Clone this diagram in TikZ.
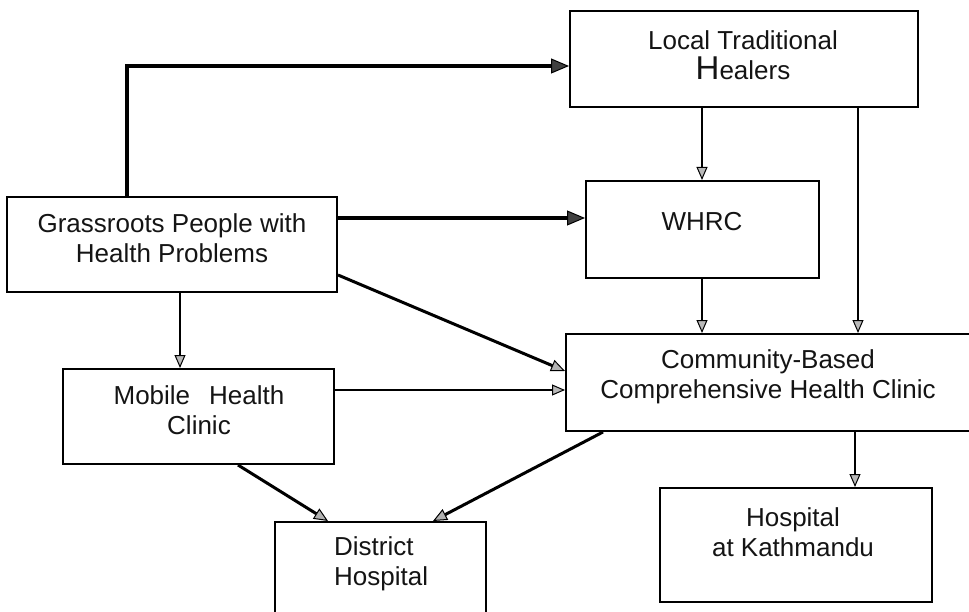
\documentclass[tikz,border=0pt]{standalone}
\usepackage{fontspec}
\setmainfont{Liberation Sans}
\usetikzlibrary{arrows.meta}
\begin{document}
\begin{tikzpicture}[x=1pt,y=-1pt,
  box/.style={draw=black, line width=2pt, rectangle, inner sep=0pt},
  txt/.style={align=center, inner sep=0pt, font=\fontsize{26}{30}\selectfont, text=black!92},
  thinarr/.style={line width=1.6pt, -{Triangle[length=13pt,width=11pt,line width=1pt,fill=gray!55]}},
  thickarr/.style={line width=4.5pt, -{Triangle[length=18pt,width=15pt,line width=1pt,fill=black!75]}},
  midarr/.style={line width=3pt, -{Triangle[length=14pt,width=12pt,line width=1pt,fill=gray!60]}},
]
\useasboundingbox (0,0) rectangle (969,612);
\clip (0,0) rectangle (969,612);

% boxes
\node[box, minimum width=348pt, minimum height=96pt] (lth) at (744,59) {};
\node[box, minimum width=330pt, minimum height=95pt] (g) at (172,244.5) {};
\node[box, minimum width=233pt, minimum height=97pt] (w) at (702.5,229.5) {};
\node[box, minimum width=434pt, minimum height=97pt] (comm) at (783,382.5) {};
\node[box, minimum width=271pt, minimum height=95pt] (mob) at (198.5,416.5) {};
\node[box, minimum width=211pt, minimum height=138pt] (dist) at (380.5,591) {};
\node[box, minimum width=272pt, minimum height=114pt] (kat) at (796,545) {};

% texts
\node[txt] (lthtext) at (743,55.5) {Local Traditional\\{\fontsize{33}{30}\selectfont H}ealers};
\node[txt] (gtext) at (172,238.5) {Grassroots People with\\Health Problems};
\node[txt] (wtext) at (702,222) {WHRC};
\node[txt] (commtext) at (768,377) {Community-Based\\Comprehensive Health Clinic};
\node[txt] (mobtext) at (199,410.5) {Mobile\hspace{19pt}Health\\Clinic};
\node[txt, align=left, anchor=west] (disttext) at (334,564) {District\\Hospital};
\node[txt] (kattext) at (793,532) {Hospital\\at Kathmandu};

% connectors
\coordinate (ctop) at (127,66);
\draw[thickarr] (g.north -| ctop) -- (ctop) -- (ctop -| lth.west);
\coordinate (cgw) at (0,218);
\draw[thickarr] (g.east |- cgw) -- (w.west |- cgw);
\coordinate (cx1) at (702,0);
\draw[thinarr] (lth.south -| cx1) -- (w.north -| cx1);
\draw[thinarr] (w.south -| cx1) -- (comm.north -| cx1);
\coordinate (cx2) at (858,0);
\draw[thinarr] (lth.south -| cx2) -- (comm.north -| cx2);
\coordinate (cgc1) at (0,275);
\coordinate (cgc2) at (0,371);
\draw[midarr] (g.east |- cgc1) -- (comm.west |- cgc2);
\coordinate (cx3) at (180,0);
\draw[thinarr] (g.south -| cx3) -- (mob.north -| cx3);
\coordinate (cmc) at (0,390);
\draw[thinarr, line width=2pt] (mob.east |- cmc) -- (comm.west |- cmc);
\coordinate (cmd1) at (238,0);
\coordinate (cmd2) at (328,0);
\draw[midarr] (mob.south -| cmd1) -- (dist.north -| cmd2);
\coordinate (ccd1) at (603,0);
\coordinate (ccd2) at (433,0);
\draw[midarr] (comm.south -| ccd1) -- (dist.north -| ccd2);
\coordinate (cx4) at (855,0);
\draw[thinarr] (comm.south -| cx4) -- (kat.north -| cx4);
\end{tikzpicture}
\end{document}
